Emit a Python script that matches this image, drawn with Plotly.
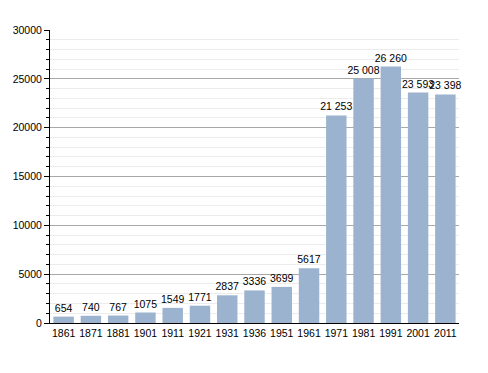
import plotly.graph_objects as go

years = ["1861", "1871", "1881", "1901", "1911", "1921", "1931", "1936",
         "1951", "1961", "1971", "1981", "1991", "2001", "2011"]
population = [654, 740, 767, 1075, 1549, 1771, 2837, 3336,
              3699, 5617, 21253, 25008, 26260, 23593, 23398]
labels = ["654", "740", "767", "1075", "1549", "1771", "2837", "3336",
          "3699", "5617", "21 253", "25 008", "26 260", "23 593", "23 398"]
y_ticks = [0, 5000, 10000, 15000, 20000, 25000, 30000]

FONT = "Liberation Sans, Arial, sans-serif"

fig = go.Figure(go.Bar(
    x=years, y=population, text=labels, textposition="outside",
    constraintext="none", textangle=0,
    textfont=dict(size=10.5, color="#000000", family=FONT),
    marker=dict(color="#9bb3cf", line=dict(width=0)),
    cliponaxis=False, hoverinfo="skip",
))

fig.update_layout(
    width=488, height=373,
    margin=dict(l=42, r=37, t=22, b=58, autoexpand=False),
    paper_bgcolor="white", plot_bgcolor="white",
    bargap=0.25, showlegend=False,
    font=dict(family=FONT, size=11, color="#000000"),
)
fig.update_xaxes(
    type="category", showline=True, linecolor="#000000", linewidth=1,
    ticks="", tickfont=dict(size=10.5), showgrid=False, automargin=False,
)
fig.update_yaxes(
    range=[0, 30000], tickvals=y_ticks, ticktext=[str(v) for v in y_ticks],
    showline=True, linecolor="#000000", linewidth=1,
    ticks="outside", ticklen=5, tickcolor="#000000", tickwidth=1,
    showgrid=True, gridcolor="#a8a8a8", gridwidth=1,
    zeroline=False, tickfont=dict(size=10.5), automargin=False,
    minor=dict(dtick=1000, tick0=0, showgrid=True, gridcolor="#ececec",
               ticks="outside", ticklen=3, tickcolor="#000000"),
)

fig.write_html("out.html")
